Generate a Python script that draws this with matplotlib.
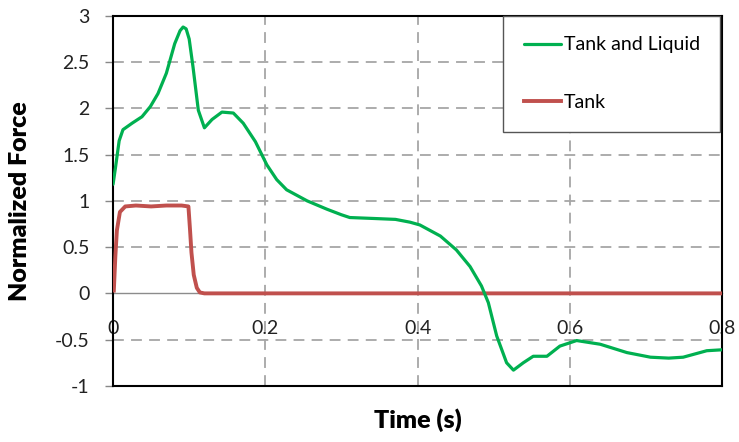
import matplotlib
matplotlib.use("Agg")
import matplotlib.pyplot as plt

plt.rcParams['font.family'] = ['Lato', 'DejaVu Sans']

# Tank and Liquid (green)
t_liquid = [0.000, 0.003, 0.008, 0.013, 0.025, 0.038, 0.049, 0.059, 0.070, 0.081,
            0.088, 0.092, 0.096, 0.100, 0.105, 0.112, 0.120, 0.130, 0.143, 0.158,
            0.171, 0.187, 0.202, 0.215, 0.228, 0.255, 0.281, 0.300, 0.311, 0.342,
            0.371, 0.390, 0.403, 0.430, 0.451, 0.469, 0.484, 0.493, 0.504, 0.517,
            0.526, 0.539, 0.552, 0.570, 0.587, 0.609, 0.640, 0.675, 0.706, 0.730,
            0.749, 0.780, 0.800]
f_liquid = [1.18, 1.35, 1.65, 1.77, 1.84, 1.91, 2.02, 2.16, 2.38, 2.70,
            2.84, 2.88, 2.86, 2.75, 2.45, 1.98, 1.79, 1.88, 1.96, 1.95,
            1.84, 1.64, 1.39, 1.23, 1.12, 1.00, 0.91, 0.85, 0.82, 0.81,
            0.80, 0.77, 0.74, 0.62, 0.47, 0.29, 0.08, -0.10, -0.46, -0.75,
            -0.83, -0.75, -0.68, -0.68, -0.57, -0.51, -0.55, -0.64, -0.69, -0.70,
            -0.69, -0.62, -0.61]

# Tank (red)
t_tank = [0.001, 0.003, 0.005, 0.009, 0.016, 0.030, 0.050, 0.070, 0.090, 0.099,
          0.101, 0.103, 0.106, 0.110, 0.114, 0.120, 0.200, 0.400, 0.600, 0.800]
f_tank = [0.03, 0.40, 0.68, 0.88, 0.94, 0.95, 0.94, 0.95, 0.95, 0.94,
          0.70, 0.44, 0.20, 0.06, 0.01, 0.00, 0.00, 0.00, 0.00, 0.00]

x_ticks = [0, 0.2, 0.4, 0.6, 0.8]
x_labels = ['0', '0.2', '0.4', '0.6', '0.8']
y_ticks = [-1, -0.5, 0, 0.5, 1, 1.5, 2, 2.5, 3]
y_labels = ['-1', '-0.5', '0', '0.5', '1', '1.5', '2', '2.5', '3']

green = '#00B050'
red = '#C0504D'
grid_c = '#A6A6A6'

fig = plt.figure(figsize=(7.39, 4.42), dpi=100)
ax = fig.add_axes([0.153, 0.127, 0.824, 0.837])

ax.plot(t_liquid, f_liquid, color=green, lw=2.3, label='Tank and Liquid', zorder=4,
        solid_joinstyle='round', solid_capstyle='round')
ax.plot(t_tank, f_tank, color=red, lw=2.8, label='Tank', zorder=3,
        solid_joinstyle='round')

ax.set_xlim(0, 0.8)
ax.set_ylim(-1, 3)

for xv in x_ticks[1:-1]:
    ax.axvline(xv, color=grid_c, lw=1.3, ls=(0, (6, 4)), zorder=1)
for yv in y_ticks:
    if yv in (-1, 0, 3):
        continue
    ax.axhline(yv, color=grid_c, lw=1.3, ls=(0, (6, 4)), zorder=1)

ax.set_yticks(y_ticks)
ax.set_yticklabels(y_labels, fontsize=14, color='#222222')
ax.tick_params(axis='y', direction='out', length=6, width=1, color='#888888', pad=11)
ax.set_xticks([])

for s in ax.spines.values():
    s.set_color('black')
    s.set_linewidth(1.5)

sec = ax.secondary_xaxis(0.25)
sec.set_xticks(x_ticks)
sec.set_xticklabels(x_labels, fontsize=14, color='#222222')
sec.tick_params(axis='x', length=0, pad=19)
sec.spines['bottom'].set_color('#8C8C8C')
sec.spines['bottom'].set_linewidth(1.0)

ax.set_ylabel('Normalized Force', fontsize=18, fontweight='heavy', labelpad=17)
ax.set_xlabel('Time (s)', fontsize=18, fontweight='heavy', labelpad=16)

leg = ax.legend(loc='upper right', bbox_to_anchor=(0.997, 1.0), fontsize=14,
                frameon=True, fancybox=False, framealpha=1, edgecolor='#555555',
                labelspacing=2.1, handlelength=1.9, handletextpad=0.15,
                borderpad=1.05, borderaxespad=0)
leg.get_frame().set_linewidth(1.0)
leg.set_zorder(10)

fig.savefig('out.png', dpi=100)
